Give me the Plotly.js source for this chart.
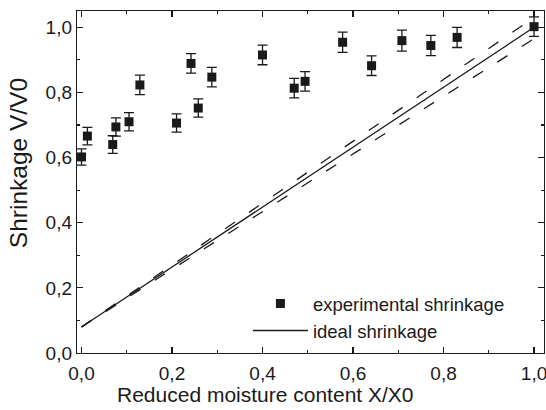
<!DOCTYPE html>
<html>
<head>
<meta charset="utf-8">
<script src="https://cdn.plot.ly/plotly-3.0.1.min.js"></script>
<style>
html,body{margin:0;padding:0;background:#fff;}
#chart{width:546px;height:410px;}
</style>
</head>
<body>
<div id="chart"></div>
<script>
var moistureX = [0.0, 0.013, 0.069, 0.076, 0.105, 0.129, 0.210, 0.242, 0.258, 0.288, 0.400, 0.470, 0.494, 0.577, 0.641, 0.708, 0.772, 0.830, 1.0];
var shrinkageV = [0.602, 0.666, 0.640, 0.694, 0.710, 0.823, 0.706, 0.889, 0.752, 0.847, 0.915, 0.813, 0.834, 0.954, 0.882, 0.959, 0.944, 0.969, 1.002];
var shrinkageErr = [0.025, 0.027, 0.027, 0.028, 0.028, 0.030, 0.028, 0.030, 0.028, 0.030, 0.030, 0.030, 0.030, 0.031, 0.030, 0.032, 0.031, 0.031, 0.030];

// Ideal shrinkage line and its dashed bounds
var idealX = [0.0, 1.0];
var idealV = [0.08, 1.0];
var upperV = [0.08, 1.03];
var lowerV = [0.08, 0.965];

// Tick labels
var xTickVals = [0.0, 0.2, 0.4, 0.6, 0.8, 1.0];
var xTickText = ["0,0", "0,2", "0,4", "0,6", "0,8", "1,0"];
var yTickVals = [0.0, 0.2, 0.4, 0.6, 0.8, 1.0];
var yTickText = ["0,0", "0,2", "0,4", "0,6", "0,8", "1,0"];

var FONT = "Liberation Sans, Arial, Helvetica, sans-serif";
var INK = "#1a1a1a";

var traces = [
  {
    x: moistureX, y: shrinkageV, type: "scatter", mode: "markers",
    name: "experimental shrinkage",
    marker: {symbol: "square", size: 9, color: INK},
    error_y: {type: "data", array: shrinkageErr, visible: true, color: INK, thickness: 1.3, width: 5},
    cliponaxis: false
  },
  {
    x: idealX, y: idealV, type: "scatter", mode: "lines",
    name: "ideal shrinkage",
    line: {color: INK, width: 1.3}
  },
  {
    x: idealX, y: upperV, type: "scatter", mode: "lines",
    showlegend: false,
    line: {color: INK, width: 1.3, dash: "12px,17px"}
  },
  {
    x: idealX, y: lowerV, type: "scatter", mode: "lines",
    showlegend: false,
    line: {color: INK, width: 1.3, dash: "12px,17px"}
  }
];

var axisCommon = {
  showgrid: false, zeroline: false,
  showline: true, linecolor: INK, linewidth: 1.2,
  mirror: "ticks", ticks: "inside", ticklen: 6, tickwidth: 1.2, tickcolor: INK,
  tickfont: {family: FONT, size: 19, color: INK},
  tickmode: "array",
  ticklabeloverflow: "allow"
};

var layout = {
  width: 546, height: 410,
  margin: {l: 77, r: 2, t: 11, b: 57},
  paper_bgcolor: "#fff", plot_bgcolor: "#fff",
  font: {family: FONT, color: INK},
  showlegend: true,
  legend: {
    x: 0.366, y: 0.199, xanchor: "left", yanchor: "top",
    bgcolor: "rgba(0,0,0,0)", borderwidth: 0,
    font: {family: FONT, size: 18.5, color: INK},
    itemwidth: 55
  },
  xaxis: Object.assign({}, axisCommon, {
    range: [-0.00995, 1.022],
    tickvals: xTickVals, ticktext: xTickText,
    ticklabelstandoff: 3,
    minor: {dtick: 0.1, tick0: 0, ticks: "inside", ticklen: 3, tickwidth: 1.2, tickcolor: INK}
  }),
  yaxis: Object.assign({}, axisCommon, {
    range: [0, 1.05],
    tickvals: yTickVals, ticktext: yTickText,
    minor: {dtick: 0.1, tick0: 0, ticks: "inside", ticklen: 3, tickwidth: 1.2, tickcolor: INK}
  }),
  annotations: [
    {text: "Reduced moisture content X/X0", xref: "paper", yref: "paper",
     x: 0.4026, y: -0.12, xanchor: "center", yanchor: "middle", showarrow: false,
     font: {family: FONT, size: 21, color: INK}},
    {text: "Shrinkage V/V0", xref: "paper", yref: "paper", textangle: -90,
     x: -0.125, y: 0.554, xanchor: "center", yanchor: "middle", showarrow: false,
     font: {family: FONT, size: 24.5, color: INK}}
  ]
};

Plotly.newPlot("chart", traces, layout, {staticPlot: true, displayModeBar: false});
</script>
</body>
</html>
